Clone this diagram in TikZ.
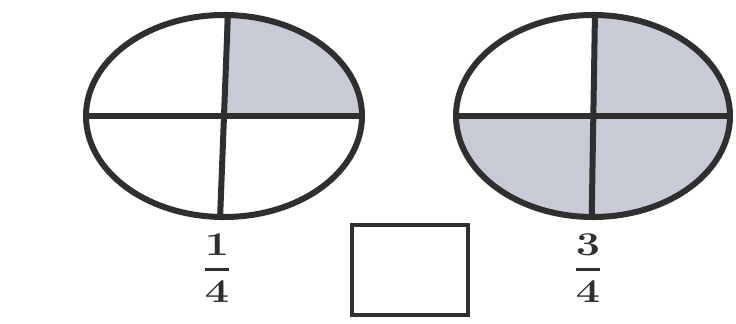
\documentclass[tikz,border=0pt]{standalone}
\usepackage{amsmath,graphicx}
\usetikzlibrary{shapes.geometric}
\definecolor{ink}{HTML}{2F2F2F}
\definecolor{shade}{HTML}{C8CBD6}
\tikzset{
  whole/.style={ellipse,draw=ink,line width=4.5pt,inner sep=0pt,
                minimum width=207pt,minimum height=151.5pt},
  cut/.style={draw=ink,line width=4.5pt},
  part/.style={fill=shade},
  answer/.style={draw=ink,line width=3pt,inner sep=0pt,
                 minimum width=87pt,minimum height=67.5pt},
  frac/.style={inner sep=0pt,text=ink,font=\fontsize{24}{28}\selectfont}
}
\newcommand{\bigfrac}[2]{\scalebox{1.3}[1]{$\displaystyle
  \genfrac{}{}{1.9pt}{0}{\mathbf{#1}}{\rule{0pt}{18pt}\mathbf{#2}}$}}

\begin{document}
\begin{tikzpicture}[x=0.75pt,y=-0.75pt]
\useasboundingbox (0,0) rectangle (736,324);
\fill[white] (0,0) rectangle (736,324);
% shaded parts
\begin{scope}
  \clip (224,116) ellipse [x radius=138,y radius=101];
  \fill[part] (224,116) rectangle (366,10);
\end{scope}
\begin{scope}
  \clip (593,116) ellipse [x radius=137,y radius=101];
  \fill[part] (593,116) rectangle (735,10);
  \fill[part] (450,116) rectangle (735,222);
\end{scope}
% the two wholes
\node[whole] (left) at (224,116) {};
\node[whole,minimum width=205.5pt] (right) at (593,116) {};
\draw[cut] ([xshift=3pt]left.north) -- ([xshift=-3pt]left.south);
\draw[cut] (left.west) -- (left.east);
\draw[cut] ([xshift=1.5pt]right.north) -- ([xshift=-1pt]right.south);
\draw[cut] (right.west) -- (right.east);
% labels
\node[frac] (onefourth) at (217,268) {\bigfrac{1}{4}};
\node[answer] (blank) at (410,270) {};
\node[frac] (threefourths) at (588,268) {\bigfrac{3}{4}};
\end{tikzpicture}
\end{document}
